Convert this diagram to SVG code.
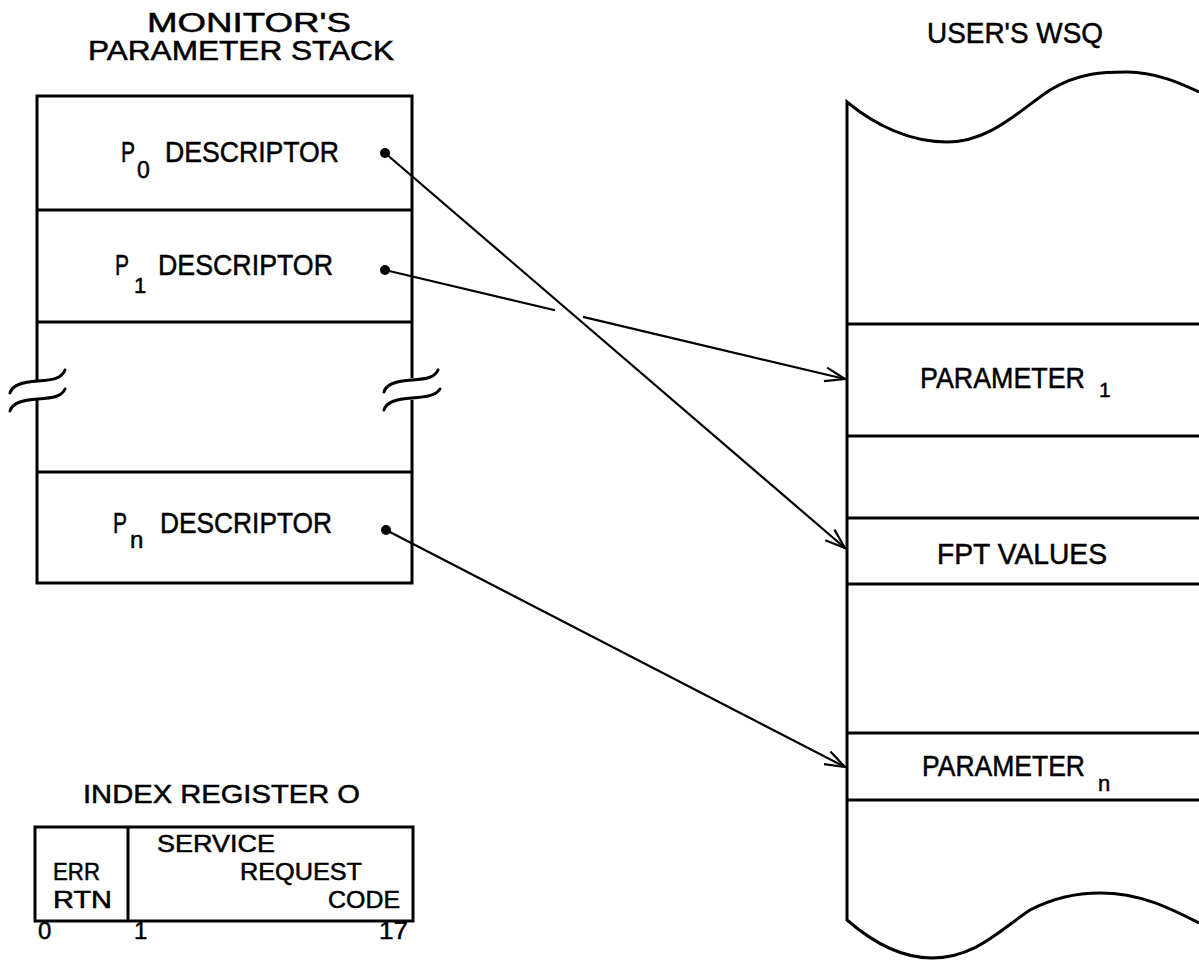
<svg xmlns="http://www.w3.org/2000/svg" width="1199" height="961" viewBox="0 0 1199 961">
<defs>
<style>
.t{font-family:"Liberation Sans",Arial,sans-serif;fill:#000;stroke:#000;stroke-width:0.5}
.box{fill:none;stroke:#000;stroke-width:3}
.ln{fill:none;stroke:#000;stroke-width:3}
.brk{fill:none;stroke:#000;stroke-width:3;stroke-linecap:round}
.con{fill:none;stroke:#000;stroke-width:2.2}
</style>
<marker id="arr" markerUnits="userSpaceOnUse" markerWidth="24" markerHeight="20" refX="22" refY="10" orient="auto" viewBox="0 0 24 20">
<path d="M2,3 L22,10 L2,17" fill="none" stroke="#000" stroke-width="2.2"/>
</marker>
</defs>
<rect width="1199" height="961" fill="#fff"/>

<g id="stack">
<text class="t" x="147" y="32" font-size="27" textLength="204" lengthAdjust="spacingAndGlyphs">MONITOR'S</text>
<text class="t" x="88" y="60" font-size="27" textLength="306" lengthAdjust="spacingAndGlyphs">PARAMETER STACK</text>
<path class="ln" d="M37,382 V96 H412 V378 M412,400 V583 H37 V400"/>
<path class="ln" d="M37,210 H412 M37,322 H412 M37,472 H412"/>
<path class="brk" d="M10,393 C12,385 22,382 38,381 C54,380 62,378 65,370"/>
<path class="brk" d="M10,411 C12,403 22,400 38,399 C54,398 62,396 65,389"/>
<path class="brk" d="M384,392 C386,384 396,381 412,380 C428,379 435,377 438,370"/>
<path class="brk" d="M384,410 C386,402 396,399 412,398 C428,397 436,395 440,389"/>
</g>

<g id="p0">
<text class="t" x="121" y="162" font-size="29" textLength="14" lengthAdjust="spacingAndGlyphs">P</text>
<text class="t" x="137" y="178" font-size="23">0</text>
<text class="t" x="165" y="162" font-size="29" textLength="174" lengthAdjust="spacingAndGlyphs">DESCRIPTOR</text>
<circle cx="385" cy="153" r="5"/>
</g>
<g id="p1">
<text class="t" x="115" y="275" font-size="29" textLength="14" lengthAdjust="spacingAndGlyphs">P</text>
<text class="t" x="134" y="293" font-size="22">1</text>
<text class="t" x="158" y="275" font-size="29" textLength="175" lengthAdjust="spacingAndGlyphs">DESCRIPTOR</text>
<circle cx="385" cy="270" r="5"/>
</g>
<g id="pn">
<text class="t" x="113" y="533" font-size="29" textLength="14" lengthAdjust="spacingAndGlyphs">P</text>
<text class="t" x="130" y="548" font-size="24">n</text>
<text class="t" x="160" y="533" font-size="29" textLength="172" lengthAdjust="spacingAndGlyphs">DESCRIPTOR</text>
<circle cx="386" cy="530" r="5"/>
</g>

<g id="wsq">
<text class="t" x="927" y="43" font-size="29" textLength="176" lengthAdjust="spacingAndGlyphs">USER'S WSQ</text>
<path class="ln" d="M1199,92 C1180,83 1155,72 1127,72 C1105,72 1080,72 1050,90 C1020,110 990,142 947,142 C910,142 875,125 847,102 V920 C870,940 900,958 932,958 C975,958 1000,930 1030,910 C1055,897 1080,893 1100,893 C1140,893 1170,908 1199,923"/>
<path class="ln" d="M847,324 H1199 M847,436 H1199 M847,518 H1199 M847,584 H1199 M847,733 H1199 M847,800 H1199"/>
</g>
<g id="param1">
<text class="t" x="920" y="388" font-size="29" textLength="165" lengthAdjust="spacingAndGlyphs">PARAMETER</text>
<text class="t" x="1099" y="397" font-size="21">1</text>
</g>
<g id="fpt">
<text class="t" x="937" y="564" font-size="29" textLength="170" lengthAdjust="spacingAndGlyphs">FPT VALUES</text>
</g>
<g id="paramn">
<text class="t" x="922" y="776" font-size="29" textLength="163" lengthAdjust="spacingAndGlyphs">PARAMETER</text>
<text class="t" x="1098" y="791" font-size="22">n</text>
</g>

<g id="indexreg">
<text class="t" x="83" y="803" font-size="26" textLength="277" lengthAdjust="spacingAndGlyphs">INDEX REGISTER O</text>
<rect class="box" x="35" y="827" width="378" height="94"/>
<path class="ln" d="M128,827 V921"/>
<text class="t" x="53" y="880" font-size="23" textLength="47" lengthAdjust="spacingAndGlyphs">ERR</text>
<text class="t" x="53" y="908" font-size="23" textLength="59" lengthAdjust="spacingAndGlyphs">RTN</text>
<text class="t" x="157" y="852" font-size="23" textLength="118" lengthAdjust="spacingAndGlyphs">SERVICE</text>
<text class="t" x="240" y="880" font-size="23" textLength="122" lengthAdjust="spacingAndGlyphs">REQUEST</text>
<text class="t" x="328" y="908" font-size="23" textLength="72" lengthAdjust="spacingAndGlyphs">CODE</text>
<text class="t" x="38" y="939" font-size="24">0</text>
<text class="t" x="134" y="939" font-size="24">1</text>
<text class="t" x="379" y="939" font-size="24" textLength="29" lengthAdjust="spacingAndGlyphs">17</text>
</g>

<g id="connectors">
<path class="con" d="M385,153 L845,548" marker-end="url(#arr)"/>
<path class="con" d="M385,270 L555,310.3"/>
<path class="con" d="M583,316.9 L845,379" marker-end="url(#arr)"/>
<path class="con" d="M386,530 L845,767" marker-end="url(#arr)"/>
</g>
</svg>
